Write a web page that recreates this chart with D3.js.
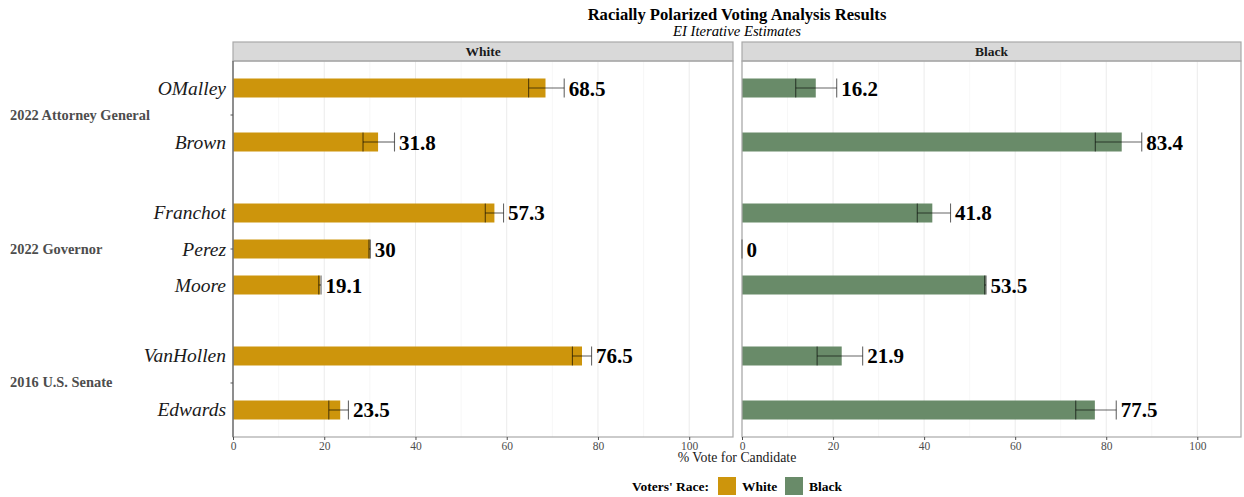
<!DOCTYPE html>
<html>
<head>
<meta charset="utf-8">
<script src="https://cdn.jsdelivr.net/npm/d3@7"></script>
<style>
  html, body { margin: 0; padding: 0; background: #fff; }
  svg { display: block; }
  svg text { font-family: "Liberation Serif", "DejaVu Serif", serif; }
</style>
</head>
<body>
<svg id="chart" width="1244" height="497"></svg>
<script>
// Contests and the candidates belonging to each
const contests = ["2022 Attorney General", "2022 Governor", "2016 U.S. Senate"];
const candidates = ["OMalley", "Brown", "Franchot", "Perez", "Moore", "VanHollen", "Edwards"];
const candidateContest = ["2022 Attorney General", "2022 Attorney General",
  "2022 Governor", "2022 Governor", "2022 Governor",
  "2016 U.S. Senate", "2016 U.S. Senate"];

// Voter groups (facets)
const races = ["White", "Black"];
const raceColors = ["#CD950C", "#698B69"];

// EI estimates (% vote for candidate) with interval bounds
const whiteEstimate = [68.5, 31.8, 57.3, 30, 19.1, 76.5, 23.5];
const whiteLower    = [64.8, 28.5, 55.3, 29.8, 18.8, 74.4, 21.0];
const whiteUpper    = [72.6, 35.4, 59.3, 30.1, 19.3, 78.6, 25.3];
const blackEstimate = [16.2, 83.4, 41.8, 0, 53.5, 21.9, 77.5];
const blackLower    = [11.8, 77.6, 38.5, 0, 53.3, 16.5, 73.3];
const blackUpper    = [20.8, 87.8, 45.8, 0, 53.6, 26.5, 82.2];

const xTicks = [0, 20, 40, 60, 80, 100];
const xMinor = [10, 30, 50, 70, 90];

const estimates = { White: whiteEstimate, Black: blackEstimate };
const lowers = { White: whiteLower, Black: blackLower };
const uppers = { White: whiteUpper, Black: blackUpper };

const svg = d3.select("#chart");

const panelTop = 61, panelBottom = 437;
const panelX = { White: [233, 733], Black: [742, 1241] };
const stripTop = 42;

// Title and subtitle
const plotCenter = (panelX.White[0] + panelX.Black[1]) / 2;
svg.append("text")
  .attr("x", plotCenter).attr("y", 20)
  .attr("text-anchor", "middle")
  .attr("font-weight", "bold").attr("font-size", 16.6)
  .attr("fill", "#000")
  .text("Racially Polarized Voting Analysis Results");
svg.append("text")
  .attr("x", plotCenter).attr("y", 36)
  .attr("text-anchor", "middle")
  .attr("font-style", "italic").attr("font-size", 14.7)
  .attr("fill", "#000")
  .text("EI Iterative Estimates");

// Vertical layout: one band per contest, candidates spread inside it
const yContest = d3.scaleBand()
  .domain(contests)
  .range([panelTop, panelBottom])
  .paddingInner(0.194)
  .paddingOuter(0);

const yWithin = {};
contests.forEach(c => {
  const members = candidates.filter((_, i) => candidateContest[i] === c);
  const start = yContest(c);
  yWithin[c] = d3.scalePoint()
    .domain(members)
    .range([start, start + yContest.bandwidth()])
    .padding(0.5);
});
const yPos = (cand, i) => yWithin[candidateContest[i]](cand);

const barH = 19;

races.forEach((race, ri) => {
  const [x0, x1] = panelX[race];
  const x = d3.scaleLinear().domain([0, 109.6]).range([x0, x1]);
  const g = svg.append("g");

  // grid
  g.selectAll("line.minor").data(xMinor).join("line")
    .attr("x1", d => x(d)).attr("x2", d => x(d))
    .attr("y1", panelTop).attr("y2", panelBottom)
    .attr("stroke", "#f3f3f3").attr("stroke-width", 0.7);
  g.selectAll("line.major").data(xTicks).join("line")
    .attr("x1", d => x(d)).attr("x2", d => x(d))
    .attr("y1", panelTop).attr("y2", panelBottom)
    .attr("stroke", "#ebebeb").attr("stroke-width", 1);

  // strip
  g.append("rect")
    .attr("x", x0).attr("y", stripTop)
    .attr("width", x1 - x0).attr("height", panelTop - stripTop)
    .attr("fill", "#d9d9d9").attr("stroke", "#a9a9a9").attr("stroke-width", 1.2);
  g.append("text")
    .attr("x", (x0 + x1) / 2).attr("y", (stripTop + panelTop) / 2 + 4.5)
    .attr("text-anchor", "middle")
    .attr("font-weight", "bold").attr("font-size", 13.5)
    .attr("fill", "#1a1a1a")
    .text(race);

  const rows = candidates.map((c, i) => ({
    cand: c, i,
    est: estimates[race][i], lo: lowers[race][i], hi: uppers[race][i]
  }));

  // bars
  g.selectAll("rect.bar").data(rows).join("rect")
    .attr("x", x(0))
    .attr("y", d => yPos(d.cand, d.i) - barH / 2)
    .attr("width", d => x(d.est) - x(0))
    .attr("height", barH)
    .attr("fill", raceColors[ri]);

  // error bars
  const eb = g.selectAll("g.eb").data(rows).join("g")
    .attr("stroke", "#000").attr("stroke-opacity", 0.6).attr("stroke-width", 1.1);
  eb.append("line")
    .attr("x1", d => x(d.lo)).attr("x2", d => x(d.hi))
    .attr("y1", d => yPos(d.cand, d.i)).attr("y2", d => yPos(d.cand, d.i));
  eb.append("line")
    .attr("x1", d => x(d.lo)).attr("x2", d => x(d.lo))
    .attr("y1", d => yPos(d.cand, d.i) - barH / 2).attr("y2", d => yPos(d.cand, d.i) + barH / 2);
  eb.append("line")
    .attr("x1", d => x(d.hi)).attr("x2", d => x(d.hi))
    .attr("y1", d => yPos(d.cand, d.i) - barH / 2).attr("y2", d => yPos(d.cand, d.i) + barH / 2);

  // value labels
  g.selectAll("text.val").data(rows).join("text")
    .attr("x", d => x(Math.max(d.hi, d.est)) + 4.5)
    .attr("y", d => yPos(d.cand, d.i) + 7.5)
    .attr("font-weight", "bold").attr("font-size", 21)
    .attr("fill", "#000")
    .text(d => String(d.est));

  // panel border
  g.append("rect")
    .attr("x", x0).attr("y", panelTop)
    .attr("width", x1 - x0).attr("height", panelBottom - panelTop)
    .attr("fill", "none").attr("stroke", "#a9a9a9").attr("stroke-width", 1.2);

  // x axis
  const ax = g.append("g").attr("transform", `translate(0,${panelBottom})`)
    .call(d3.axisBottom(x).tickValues(xTicks).tickSize(3).tickPadding(2).tickFormat(d3.format("d")));
  ax.attr("font-family", null);
  ax.select(".domain").remove();
  ax.selectAll(".tick line").attr("stroke", "#4d4d4d");
  ax.selectAll(".tick text")
    .attr("fill", "#4d4d4d").attr("font-size", 11.5);
});

// left axis line with contest ticks
const xL = panelX.White[0];
svg.append("line")
  .attr("x1", xL).attr("x2", xL).attr("y1", panelTop).attr("y2", panelBottom)
  .attr("stroke", "#555").attr("stroke-width", 1);

// candidate labels
svg.selectAll("text.cand").data(candidates).join("text")
  .attr("x", xL - 7)
  .attr("y", (d, i) => yPos(d, i) + 6.5)
  .attr("text-anchor", "end")
  .attr("font-style", "italic").attr("font-size", 19.5)
  .attr("fill", "#1a1a1a")
  .text(d => d);

// contest labels
svg.selectAll("line.ctick").data(contests).join("line")
  .attr("x1", xL - 2.5).attr("x2", xL)
  .attr("y1", d => yContest(d) + yContest.bandwidth() / 2)
  .attr("y2", d => yContest(d) + yContest.bandwidth() / 2)
  .attr("stroke", "#555").attr("stroke-width", 1);
svg.selectAll("text.contest").data(contests).join("text")
  .attr("x", 10)
  .attr("y", d => yContest(d) + yContest.bandwidth() / 2 + 4.5)
  .attr("font-weight", "bold").attr("font-size", 14.4)
  .attr("fill", "#4d4d4d")
  .text(d => d);

// x axis title
svg.append("text")
  .attr("x", plotCenter).attr("y", 462)
  .attr("text-anchor", "middle")
  .attr("font-size", 13.8).attr("fill", "#1a1a1a")
  .text("% Vote for Candidate");

// legend
const legend = svg.append("g").attr("transform", "translate(0,486)");
legend.append("text")
  .attr("x", 632).attr("y", 5)
  .attr("font-weight", "bold").attr("font-size", 13.5)
  .text("Voters' Race:");
const keyX = [718, 785];
races.forEach((r, i) => {
  legend.append("rect")
    .attr("x", keyX[i]).attr("y", -9)
    .attr("width", 18).attr("height", 18)
    .attr("fill", raceColors[i]);
  legend.append("text")
    .attr("x", keyX[i] + 24).attr("y", 5)
    .attr("font-weight", "bold").attr("font-size", 13.5)
    .text(r);
});
</script>
</body>
</html>
